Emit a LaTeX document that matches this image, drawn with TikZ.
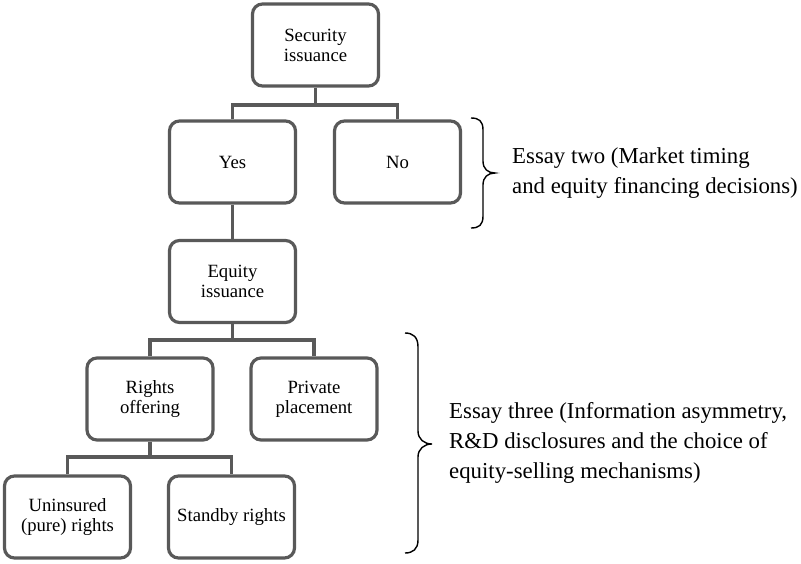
\documentclass[tikz,border=0pt]{standalone}
\usepackage{fontspec}
\setmainfont{Liberation Serif}
\definecolor{linegray}{RGB}{89,89,89}
\begin{document}
\begin{tikzpicture}[x=1pt,y=-1pt,
  box/.style={draw=linegray, line width=3.2pt, rounded corners=10pt, fill=white,
    minimum width=126pt, minimum height=82pt, align=center, inner sep=0pt,
    font=\fontsize{18.7}{19.8}\selectfont},
  link/.style={draw=linegray, line width=3.2pt},
  bracepath/.style={draw=black, line width=1.4pt},
  essay/.style={align=left, anchor=west, inner sep=0pt,
    font=\fontsize{22.8}{30}\selectfont}]
\useasboundingbox (0,0) rectangle (801,563);

% decision tree boxes
\node[box] (sec)    at (315.5,45)  {Security\\issuance};
\node[box] (yes)    at (232.5,162) {Yes};
\node[box] (no)     at (397.5,162) {No};
\node[box] (eq)     at (232.5,281.5) {Equity\\issuance};
\node[box] (rights) at (150,399)   {Rights\\offering};
\node[box] (priv)   at (314,399)   {Private\\placement};
\node[box] (unins)  at (67.5,517)  {Uninsured\\(pure) rights};
\node[box] (stand)  at (231.5,517) {Standby rights};

% elbow connectors
\coordinate (j1) at (315.5,105);
\coordinate (j2) at (232.5,340);
\coordinate (j3) at (150,457);
\draw[link] (sec.south) -- (j1);
\draw[link] (yes.north) |- (j1) -| (no.north);
\draw[link] (yes.south) -- (eq.north);
\draw[link] (eq.south) -- (j2);
\draw[link] (rights.north) |- (j2) -| (priv.north);
\draw[link] (rights.south) -- (j3);
\draw[link] (unins.north) |- (j3) -| (stand.north);

% brace grouping the first level
\draw[bracepath] (471,118) .. controls (479,118) and (483,121) .. (483,130)
  -- (483,161) .. controls (483,169) and (488,173) .. (495,173)
  .. controls (488,173) and (483,177) .. (483,185)
  -- (483,216) .. controls (483,225) and (479,228) .. (471,228);
\node[essay] (essay2) at (512,173) {Essay two (Market timing\\and equity financing decisions)};

% brace grouping the equity-selling mechanisms
\draw[bracepath] (405,333) .. controls (413,333) and (418,337) .. (418,347)
  -- (418,431) .. controls (418,439) and (424,444) .. (432,444)
  .. controls (424,444) and (418,449) .. (418,457)
  -- (418,540) .. controls (418,549) and (413,553) .. (405,553);
\node[essay] (essay3) at (449,443) {Essay three (Information asymmetry,\\R\&D disclosures and the choice of\\equity-selling mechanisms)};
\end{tikzpicture}
\end{document}
